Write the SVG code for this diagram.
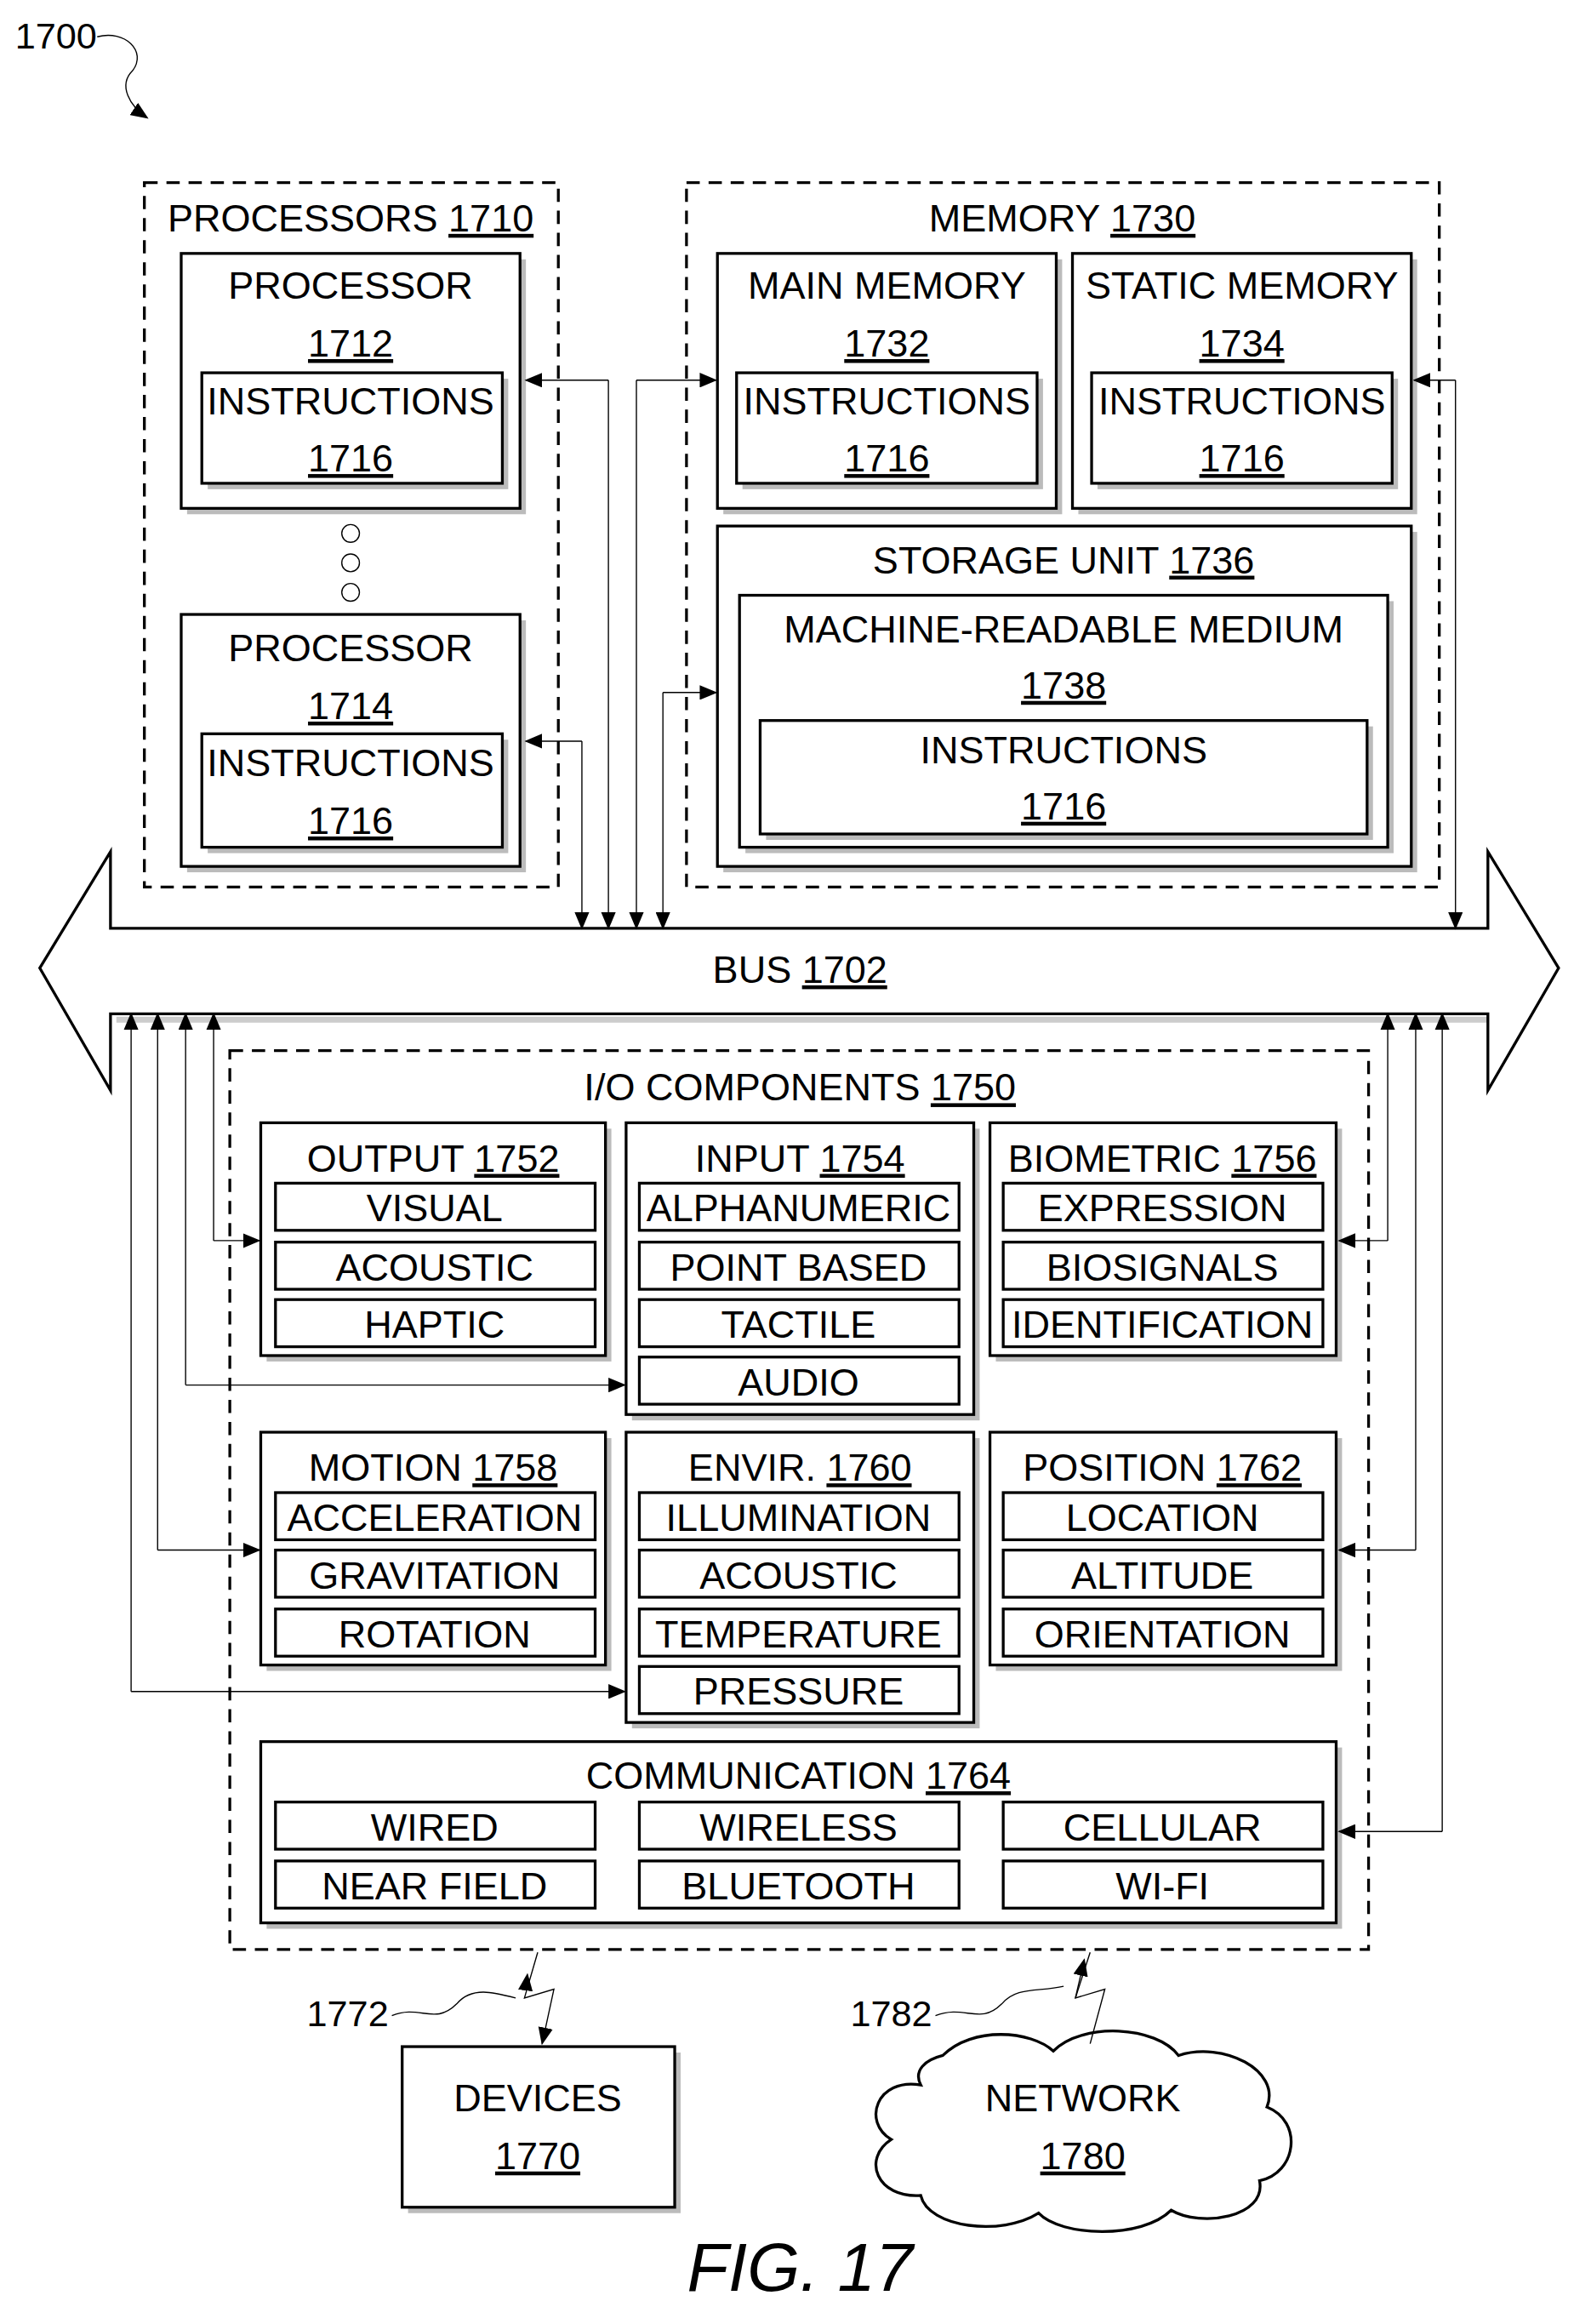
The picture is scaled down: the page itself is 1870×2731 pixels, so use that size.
<svg xmlns="http://www.w3.org/2000/svg" width="1870" height="2731" viewBox="0 0 1870 2731">
<defs>
<style>
text{font-family:"Liberation Sans",Arial,sans-serif;font-size:26px;fill:#000;text-anchor:middle}
.b{fill:#fff;stroke:#000;stroke-width:1.9}
.sh{fill:#bbb;stroke:none}
.d{fill:none;stroke:#000;stroke-width:1.9;stroke-dasharray:9,6}
.c{fill:none;stroke:#000;stroke-width:0.8}
.u{text-decoration:underline}
</style>
<marker id="a" markerUnits="userSpaceOnUse" markerWidth="12" markerHeight="10" refX="11" refY="5" orient="auto"><path d="M0,0 L12,5 L0,10 Z" fill="#000"/></marker>
</defs>
<rect width="1870" height="2731" fill="#fff"/>
<g transform="scale(1.7315)">
<g id="label1700"><text x="38" y="33" style="font-size:25px">1700</text>
<path class="c" d="M66,25 C85,20 100,35 90,48 C80,58 88,72 100,80" marker-end="url(#a)"/></g>

<g id="processors">
<rect class="d" x="98" y="124" width="281" height="478"/>
<text x="238" y="157">PROCESSORS <tspan class="u">1710</tspan></text>
</g>
<g id="p1712">
<rect class="sh" x="127" y="176" width="230" height="173"/><rect class="b" x="123" y="172" width="230" height="173"/>
<text x="238" y="203">PROCESSOR</text><text x="238" y="242" class="u">1712</text>
<rect class="sh" x="141" y="257" width="204" height="75"/><rect class="b" x="137" y="253" width="204" height="75"/>
<text x="238" y="281">INSTRUCTIONS</text><text x="238" y="320" class="u">1716</text>
</g>
<g id="dots" fill="none" stroke="#000" stroke-width="0.8"><circle cx="238" cy="362" r="6"/><circle cx="238" cy="382" r="6"/><circle cx="238" cy="402" r="6"/></g>
<g id="p1714">
<rect class="sh" x="127" y="421" width="230" height="171"/><rect class="b" x="123" y="417" width="230" height="171"/>
<text x="238" y="449">PROCESSOR</text><text x="238" y="488" class="u">1714</text>
<rect class="sh" x="141" y="502" width="204" height="77"/><rect class="b" x="137" y="498" width="204" height="77"/>
<text x="238" y="527">INSTRUCTIONS</text><text x="238" y="566" class="u">1716</text>
</g>

<g id="memory">
<rect class="d" x="466" y="124" width="511" height="478"/>
<text x="721" y="157">MEMORY <tspan class="u">1730</tspan></text>
</g>
<g id="m1732">
<rect class="sh" x="491" y="176" width="230" height="173"/><rect class="b" x="487" y="172" width="230" height="173"/>
<text x="602" y="203">MAIN MEMORY</text><text x="602" y="242" class="u">1732</text>
<rect class="sh" x="504" y="257" width="204" height="75"/><rect class="b" x="500" y="253" width="204" height="75"/>
<text x="602" y="281">INSTRUCTIONS</text><text x="602" y="320" class="u">1716</text>
</g>
<g id="m1734">
<rect class="sh" x="732" y="176" width="230" height="173"/><rect class="b" x="728" y="172" width="230" height="173"/>
<text x="843" y="203">STATIC MEMORY</text><text x="843" y="242" class="u">1734</text>
<rect class="sh" x="745" y="257" width="204" height="75"/><rect class="b" x="741" y="253" width="204" height="75"/>
<text x="843" y="281">INSTRUCTIONS</text><text x="843" y="320" class="u">1716</text>
</g>
<g id="s1736">
<rect class="sh" x="491" y="361" width="471" height="231"/><rect class="b" x="487" y="357" width="471" height="231"/>
<text x="722" y="389">STORAGE UNIT <tspan class="u">1736</tspan></text>
<rect class="sh" x="506" y="408" width="440" height="171"/><rect class="b" x="502" y="404" width="440" height="171"/>
<text x="722" y="436">MACHINE-READABLE MEDIUM</text><text x="722" y="474" class="u">1738</text>
<rect class="sh" x="520" y="493" width="412" height="77"/><rect class="b" x="516" y="489" width="412" height="77"/>
<text x="722" y="518">INSTRUCTIONS</text><text x="722" y="556" class="u">1716</text>
</g>

<g id="bus">
<path d="M79,634 H1014 M79,692 H1014" stroke="#ccc" stroke-width="4" fill="none"/>
<path class="b" d="M75,578 V630 H1010 V578 L1058,657 L1010,740 V688 H75 V740 L27,657 Z" fill="#fff"/>
<text x="543" y="667">BUS <tspan class="u">1702</tspan></text>
</g>

<g id="io">
<rect class="d" x="156" y="713" width="773" height="610"/>
<text x="543" y="747">I/O COMPONENTS <tspan class="u">1750</tspan></text>
</g>
<g id="output">
<rect class="sh" x="181" y="766" width="234" height="158"/><rect class="b" x="177" y="762" width="234" height="158"/>
<text x="294" y="795">OUTPUT <tspan class="u">1752</tspan></text>
<rect class="b" x="187" y="803" width="217" height="32"/><text x="295" y="829">VISUAL</text>
<rect class="b" x="187" y="843" width="217" height="32"/><text x="295" y="869">ACOUSTIC</text>
<rect class="b" x="187" y="882" width="217" height="32"/><text x="295" y="908">HAPTIC</text>
</g>
<g id="input">
<rect class="sh" x="429" y="766" width="236" height="198"/><rect class="b" x="425" y="762" width="236" height="198"/>
<text x="543" y="795">INPUT <tspan class="u">1754</tspan></text>
<rect class="b" x="434" y="803" width="217" height="32"/><text x="542" y="829">ALPHANUMERIC</text>
<rect class="b" x="434" y="843" width="217" height="32"/><text x="542" y="869">POINT BASED</text>
<rect class="b" x="434" y="882" width="217" height="32"/><text x="542" y="908">TACTILE</text>
<rect class="b" x="434" y="921" width="217" height="32"/><text x="542" y="947">AUDIO</text>
</g>
<g id="biometric">
<rect class="sh" x="676" y="766" width="235" height="158"/><rect class="b" x="672" y="762" width="235" height="158"/>
<text x="789" y="795">BIOMETRIC <tspan class="u">1756</tspan></text>
<rect class="b" x="681" y="803" width="217" height="32"/><text x="789" y="829">EXPRESSION</text>
<rect class="b" x="681" y="843" width="217" height="32"/><text x="789" y="869">BIOSIGNALS</text>
<rect class="b" x="681" y="882" width="217" height="32"/><text x="789" y="908">IDENTIFICATION</text>
</g>
<g id="motion">
<rect class="sh" x="181" y="976" width="234" height="158"/><rect class="b" x="177" y="972" width="234" height="158"/>
<text x="294" y="1005">MOTION <tspan class="u">1758</tspan></text>
<rect class="b" x="187" y="1013" width="217" height="32"/><text x="295" y="1039">ACCELERATION</text>
<rect class="b" x="187" y="1052" width="217" height="32"/><text x="295" y="1078">GRAVITATION</text>
<rect class="b" x="187" y="1092" width="217" height="32"/><text x="295" y="1118">ROTATION</text>
</g>
<g id="envir">
<rect class="sh" x="429" y="976" width="236" height="197"/><rect class="b" x="425" y="972" width="236" height="197"/>
<text x="543" y="1005">ENVIR. <tspan class="u">1760</tspan></text>
<rect class="b" x="434" y="1013" width="217" height="32"/><text x="542" y="1039">ILLUMINATION</text>
<rect class="b" x="434" y="1052" width="217" height="32"/><text x="542" y="1078">ACOUSTIC</text>
<rect class="b" x="434" y="1092" width="217" height="32"/><text x="542" y="1118">TEMPERATURE</text>
<rect class="b" x="434" y="1131" width="217" height="32"/><text x="542" y="1157">PRESSURE</text>
</g>
<g id="position">
<rect class="sh" x="676" y="976" width="235" height="158"/><rect class="b" x="672" y="972" width="235" height="158"/>
<text x="789" y="1005">POSITION <tspan class="u">1762</tspan></text>
<rect class="b" x="681" y="1013" width="217" height="32"/><text x="789" y="1039">LOCATION</text>
<rect class="b" x="681" y="1052" width="217" height="32"/><text x="789" y="1078">ALTITUDE</text>
<rect class="b" x="681" y="1092" width="217" height="32"/><text x="789" y="1118">ORIENTATION</text>
</g>
<g id="communication">
<rect class="sh" x="181" y="1186" width="730" height="123"/><rect class="b" x="177" y="1182" width="730" height="123"/>
<text x="542" y="1214">COMMUNICATION <tspan class="u">1764</tspan></text>
<rect class="b" x="187" y="1223" width="217" height="32"/><text x="295" y="1249">WIRED</text>
<rect class="b" x="434" y="1223" width="217" height="32"/><text x="542" y="1249">WIRELESS</text>
<rect class="b" x="681" y="1223" width="217" height="32"/><text x="789" y="1249">CELLULAR</text>
<rect class="b" x="187" y="1263" width="217" height="32"/><text x="295" y="1289">NEAR FIELD</text>
<rect class="b" x="434" y="1263" width="217" height="32"/><text x="542" y="1289">BLUETOOTH</text>
<rect class="b" x="681" y="1263" width="217" height="32"/><text x="789" y="1289">WI-FI</text>
</g>

<g id="devices">
<rect class="sh" x="277" y="1393" width="185" height="109"/><rect class="b" x="273" y="1389" width="185" height="109"/>
<text x="365" y="1433">DEVICES</text><text x="365" y="1472" class="u">1770</text>
</g>
<g id="network">
<path class="b" d="M640,1395 C660,1375 700,1378 715,1392 C735,1372 785,1375 800,1395 C830,1385 870,1405 860,1430 C885,1440 880,1475 855,1480 C860,1505 815,1512 795,1500 C775,1520 720,1518 705,1502 C680,1518 630,1512 625,1490 C595,1492 585,1465 605,1452 C585,1440 595,1410 625,1415 C620,1405 628,1398 640,1395 Z"/>
<text x="735" y="1433">NETWORK</text><text x="735" y="1472" class="u">1780</text>
</g>
<g id="labels">
<text x="236" y="1375" style="font-size:25px">1772</text>
<path class="c" d="M266,1368 C285,1360 295,1375 310,1360 C320,1348 335,1352 350,1356"/>
<text x="605" y="1375" style="font-size:25px">1782</text>
<path class="c" d="M635,1368 C655,1360 665,1375 680,1360 C690,1348 705,1352 722,1348"/>
<text x="543" y="1555" style="font-size:46px;font-style:italic">FIG. 17</text>
</g>

<g id="connectors">
<path class="c" d="M365,1325 L356,1356 L376,1350 L368,1387" marker-end="url(#a)"/>
<path class="c" d="M740,1325 L730,1356 L750,1350 L740,1387"/>
<path class="c" d="M356,1356 L358,1340" marker-end="url(#a)" stroke-opacity="0"/>
<path class="c" d="M730,1356 L736,1330" marker-end="url(#a)"/>
<path class="c" d="M395,503 H357" marker-end="url(#a)"/><path class="c" d="M395,503 V630" marker-end="url(#a)"/>
<path class="c" d="M413,258 H357" marker-end="url(#a)"/><path class="c" d="M413,258 V630" marker-end="url(#a)"/>
<path class="c" d="M432,258 H486" marker-end="url(#a)"/><path class="c" d="M432,258 V630" marker-end="url(#a)"/>
<path class="c" d="M450,470 H486" marker-end="url(#a)"/><path class="c" d="M450,470 V630" marker-end="url(#a)"/>
<path class="c" d="M988,258 H960" marker-end="url(#a)"/><path class="c" d="M988,258 V630" marker-end="url(#a)"/>
<path class="c" d="M145,842 H176" marker-end="url(#a)"/><path class="c" d="M145,842 V688" marker-end="url(#a)"/>
<path class="c" d="M126,940 H424" marker-end="url(#a)"/><path class="c" d="M126,940 V688" marker-end="url(#a)"/>
<path class="c" d="M107,1052 H176" marker-end="url(#a)"/><path class="c" d="M107,1052 V688" marker-end="url(#a)"/>
<path class="c" d="M89,1148 H424" marker-end="url(#a)"/><path class="c" d="M89,1148 V688" marker-end="url(#a)"/>
<path class="c" d="M942,842 H909" marker-end="url(#a)"/><path class="c" d="M942,842 V688" marker-end="url(#a)"/>
<path class="c" d="M961,1052 H909" marker-end="url(#a)"/><path class="c" d="M961,1052 V688" marker-end="url(#a)"/>
<path class="c" d="M979,1243 H909" marker-end="url(#a)"/><path class="c" d="M979,1243 V688" marker-end="url(#a)"/>
</g>
</g>
</svg>
